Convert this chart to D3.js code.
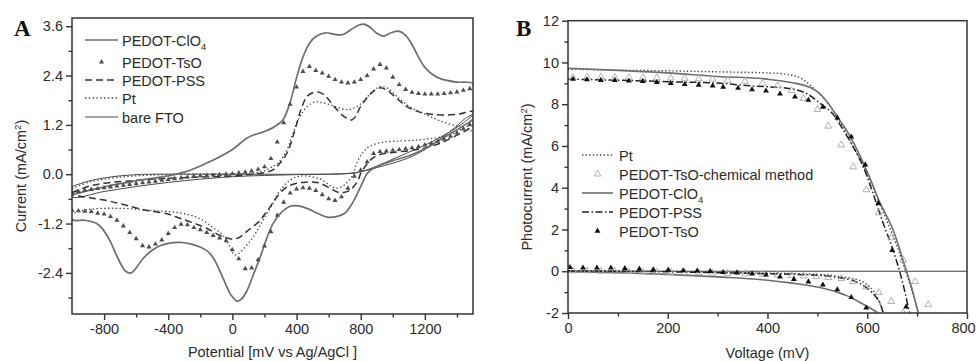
<!DOCTYPE html>
<html>
<head>
<meta charset="utf-8">
<script src="https://cdn.jsdelivr.net/npm/d3@7/dist/d3.min.js"></script>
<style>
  body { margin: 0; background: #fff; }
  svg { display: block; font-family: "Liberation Sans", Arial, sans-serif; }
</style>
</head>
<body>
<svg id="chart" width="978" height="361"></svg>
<script>
// ---------- panel A : cyclic voltammograms [potential mV, current mA/cm2] ----------
const cvClO4 = [
  [-1000,-0.5],[-900,-0.4],[-800,-0.31],[-700,-0.23],[-600,-0.16],[-500,-0.1],[-400,-0.04],[-300,0.05],
  [-200,0.2],[-100,0.38],[0,0.6],[100,0.9],[200,1.04],[260,1.15],[315,1.32],[360,1.75],[400,2.35],
  [440,2.85],[480,3.18],[520,3.35],[580,3.44],[640,3.4],[690,3.4],[740,3.52],[790,3.63],[820,3.65],
  [860,3.57],[900,3.43],[940,3.36],[990,3.44],[1035,3.48],[1080,3.38],[1120,3.15],[1160,2.85],
  [1200,2.6],[1250,2.42],[1300,2.32],[1400,2.24],[1500,2.2],
  [1500,1.35],[1450,1.2],[1400,1.08],[1300,0.85],[1200,0.62],[1100,0.45],[1000,0.33],[920,0.22],
  [870,0.12],[840,0.02],[800,-0.3],[760,-0.62],[733,-0.8],[700,-0.95],[660,-1.02],[600,-1.05],
  [530,-0.95],[465,-0.83],[410,-0.77],[360,-0.78],[300,-0.95],[253,-1.2],[210,-1.6],[172,-2.03],
  [130,-2.45],[90,-2.84],[55,-3.04],[28,-3.09],[5,-3.0],[-15,-2.9],[-59,-2.52],[-120,-2.03],
  [-160,-1.86],[-202,-1.77],[-270,-1.69],[-327,-1.66],[-400,-1.68],[-451,-1.74],[-500,-1.85],
  [-557,-2.05],[-600,-2.28],[-630,-2.4],[-665,-2.36],[-713,-2.05],[-763,-1.62],[-810,-1.33],
  [-846,-1.2],[-920,-1.12],[-1000,-1.1],[-1000,-0.5]
];

const cvPSS = [
  [-1000,-0.45],[-900,-0.3],[-800,-0.22],[-600,-0.15],[-400,-0.1],[-200,-0.07],[0,-0.04],[100,-0.01],
  [200,0.04],[250,0.1],[285,0.22],[340,0.51],[390,1.08],[430,1.6],[465,1.89],[500,1.98],[533,2.0],
  [565,1.95],[590,1.86],[640,1.62],[690,1.42],[720,1.35],[745,1.32],[770,1.42],[800,1.65],[846,1.89],
  [880,2.02],[920,2.1],[960,2.05],[1000,1.93],[1050,1.76],[1090,1.64],[1140,1.55],[1190,1.49],
  [1260,1.45],[1340,1.44],[1420,1.47],[1500,1.52],
  [1500,1.2],[1450,1.05],[1400,0.95],[1300,0.76],[1200,0.64],[1100,0.57],[1000,0.53],[920,0.48],
  [870,0.38],[830,0.2],[800,0.02],[783,-0.15],[760,-0.28],[733,-0.39],[700,-0.44],[658,-0.44],
  [608,-0.34],[560,-0.24],[527,-0.2],[480,-0.19],[440,-0.2],[400,-0.22],[359,-0.27],[330,-0.34],
  [297,-0.46],[265,-0.62],[234,-0.8],[200,-0.98],[172,-1.13],[140,-1.24],[110,-1.33],[80,-1.42],
  [47,-1.53],[20,-1.57],[-15,-1.57],[-50,-1.53],[-77,-1.49],[-120,-1.4],[-158,-1.32],[-220,-1.22],
  [-283,-1.13],[-350,-1.04],[-408,-0.96],[-470,-0.92],[-532,-0.88],[-600,-0.82],[-657,-0.76],
  [-720,-0.7],[-782,-0.64],[-850,-0.6],[-907,-0.56],[-960,-0.53],[-1000,-0.5],[-1000,-0.45]
];

const cvPt = [
  [-1000,-0.35],[-900,-0.2],[-800,-0.12],[-700,-0.07],[-600,-0.04],[-500,-0.02],[-300,0.0],[-100,0.0],
  [100,0.02],[200,0.08],[234,0.15],[284,0.27],[340,0.59],[378,1.0],[421,1.4],[465,1.64],[515,1.76],
  [560,1.74],[608,1.69],[658,1.62],[714,1.57],[764,1.62],[814,1.76],[870,2.0],[920,2.13],[964,2.1],
  [1026,1.89],[1107,1.64],[1213,1.44],[1313,1.27],[1419,1.15],[1500,1.06],
  [1500,1.28],[1481,1.2],[1419,1.08],[1350,0.95],[1294,0.9],[1220,0.86],[1150,0.83],[1050,0.81],
  [940,0.78],[880,0.72],[840,0.64],[810,0.5],[795,0.42],[770,0.22],[752,0.0],[733,-0.12],
  [710,-0.22],[689,-0.29],[652,-0.34],[620,-0.3],[590,-0.22],[550,-0.12],[503,-0.07],[460,-0.04],
  [421,-0.05],[390,-0.08],[359,-0.15],[330,-0.24],[309,-0.34],[280,-0.5],[253,-0.71],[220,-0.92],
  [190,-1.13],[160,-1.33],[128,-1.54],[95,-1.7],[66,-1.83],[40,-1.93],[16,-1.96],[3,-1.92],
  [-15,-1.78],[-34,-1.62],[-70,-1.44],[-120,-1.3],[-170,-1.16],[-220,-1.05],[-280,-0.98],
  [-346,-0.93],[-430,-0.9],[-514,-0.88],[-600,-0.85],[-700,-0.83],[-807,-0.83],[-880,-0.85],
  [-932,-0.88],[-1000,-0.93],[-1000,-0.35]
];

const cvFTO = [
  [-1000,-0.3],[-900,-0.17],[-800,-0.09],[-700,-0.04],[-600,-0.01],[-500,0],[0,0],[500,0],
  [700,0.01],[780,0.04],[850,0.12],[950,0.28],[1050,0.45],[1150,0.62],[1250,0.8],[1350,1.02],
  [1430,1.22],[1500,1.45],
  [1460,1.38],[1400,1.18],[1300,0.87],[1200,0.6],[1100,0.4],[1000,0.27],[900,0.16],[820,0.08],
  [750,0.03],[600,0.0],[400,-0.01],[200,-0.03],[0,-0.06],[-200,-0.12],[-400,-0.2],[-600,-0.3],
  [-800,-0.42],[-1000,-0.55],[-1000,-0.3]
];

// PEDOT-TsO scan points (anodic sweep, then cathodic sweep)
const tsoPotentials = [
  -1000,-960,-920,-880,-840,-800,-760,-720,-680,-640,-600,-560,-520,-480,-440,-400,-360,-320,-280,
  -240,-200,-160,-120,-80,-40,0,40,80,120,160,200,240,280,320,360,400,440,480,520,560,600,640,680,
  720,760,800,840,880,920,960,1000,1040,1080,1120,1160,1200,1240,1280,1320,1360,1400,1440,1480
];
const tsoAnodic = [
  -0.45,-0.42,-0.39,-0.37,-0.35,-0.33,-0.31,-0.29,-0.27,-0.25,-0.23,-0.21,-0.19,-0.17,-0.15,-0.13,
  -0.11,-0.09,-0.07,-0.05,-0.04,-0.03,-0.02,-0.01,0.0,0.01,0.03,0.05,0.08,0.12,0.18,0.38,0.78,1.25,
  1.7,2.12,2.5,2.62,2.52,2.46,2.38,2.3,2.24,2.22,2.24,2.3,2.4,2.56,2.67,2.58,2.36,2.18,2.06,1.99,
  1.96,1.95,1.95,1.95,1.96,1.98,2.0,2.04,2.08
];
// cathodic values listed for the same potentials (low to high)
const tsoCathodic = [
  -0.88,-0.89,-0.9,-0.91,-0.95,-0.97,-1.03,-1.12,-1.26,-1.42,-1.57,-1.74,-1.77,-1.7,-1.6,-1.44,
  -1.3,-1.22,-1.23,-1.3,-1.35,-1.42,-1.49,-1.55,-1.62,-1.84,-2.06,-2.3,-2.28,-2.08,-1.75,-1.4,-1.0,
  -0.68,-0.46,-0.36,-0.33,-0.34,-0.4,-0.5,-0.6,-0.64,-0.55,-0.34,-0.05,0.1,0.3,0.5,0.55,0.56,0.58,
  0.6,0.62,0.64,0.67,0.71,0.75,0.8,0.85,0.92,1.0,1.1,1.2
];

// ---------- panel B : J-V curves [voltage mV, photocurrent mA/cm2] ----------
const jvPtLight = [
  [0,9.68],[100,9.63],[200,9.6],[300,9.55],[400,9.5],[440,9.43],[470,9.2],[492,8.77],[512,8.3],
  [530,7.75],[550,6.95],[570,6.05],[590,5.15],[610,4.1],[630,2.95],[650,1.8],[670,0.5],[685,-0.6],
  [698,-1.6],[703,-2.0]
];
const jvPtDark = [
  [0,0.03],[100,0.02],[200,0.0],[305,-0.05],[400,-0.09],[505,-0.15],[550,-0.27],[586,-0.45],
  [605,-0.75],[620,-1.25],[628,-1.7],[632,-2.0]
];
const jvClO4Light = [
  [0,9.72],[100,9.62],[200,9.5],[300,9.33],[400,9.2],[450,9.03],[480,8.85],[500,8.6],[520,8.1],
  [540,7.4],[566,6.45],[586,5.5],[602,4.65],[626,3.26],[652,1.97],[676,0.2],[692,-1.04],[702,-2.0]
];
const jvClO4Dark = [
  [0,-0.02],[100,-0.07],[200,-0.15],[300,-0.27],[400,-0.43],[450,-0.57],[505,-0.78],[540,-1.0],
  [560,-1.18],[586,-1.5],[605,-1.75],[622,-2.0]
];
const jvPSSLight = [
  [0,9.2],[100,9.15],[200,9.08],[305,9.0],[371,8.87],[439,8.77],[479,8.5],[505,8.05],[532,7.5],
  [552,6.76],[572,5.95],[592,5.0],[612,3.7],[632,2.3],[652,1.0],[666,-0.1],[676,-1.04],[682,-1.7],
  [685,-2.0]
];
const jvPSSDark = [
  [0,0.02],[100,0.0],[200,-0.03],[305,-0.07],[400,-0.12],[505,-0.2],[540,-0.3],[572,-0.45],
  [590,-0.65],[605,-0.92],[618,-1.25],[626,-1.55],[632,-2.0]
];
const jvTsOLight = [
  [10,9.2],[38,9.18],[66,9.15],[94,9.15],[122,9.12],[150,9.1],[178,9.05],[206,9.0],[234,8.95],
  [262,8.92],[290,8.88],[311,8.82],[341,8.77],[369,8.7],[397,8.64],[425,8.5],[455,8.35],[482,8.2],
  [511,7.87],[540,7.35],[568,6.44],[596,5.1],[622,3.26],[650,1.0],[678,-1.7]
];
const jvTsODark = [
  [4,0.19],[30,0.16],[58,0.16],[86,0.16],[114,0.14],[143,0.11],[171,0.08],[201,0.06],[231,0.03],
  [259,0.02],[285,0.0],[311,-0.05],[339,-0.07],[369,-0.12],[397,-0.17],[425,-0.27],[453,-0.38],
  [482,-0.5],[511,-0.65],[540,-0.88],[568,-1.25],[598,-1.75]
];
const jvTsOChemLight = [
  [10,9.28],[38,9.3],[66,9.3],[94,9.28],[122,9.28],[150,9.27],[178,9.26],[206,9.25],[234,9.24],
  [262,9.22],[290,9.2],[320,9.15],[355,9.1],[390,9.0],[420,8.88],[448,8.65],[472,8.28],[500,7.75],
  [522,6.95],[548,6.05],[572,5.0],[598,3.9],[623,2.8],[648,1.6],[672,0.55],[696,-0.5],[722,-1.6]
];
const jvTsOChemDark = [
  [10,0.02],[38,0.02],[66,0.0],[94,0.0],[122,-0.02],[150,-0.03],[178,-0.04],[206,-0.05],[234,-0.06],
  [262,-0.07],[290,-0.09],[320,-0.1],[355,-0.12],[390,-0.14],[420,-0.17],[448,-0.2],[472,-0.23],
  [498,-0.26],[522,-0.3],[548,-0.35],[572,-0.5],[598,-0.75],[623,-1.02],[648,-1.45],[672,-2.0]
];

// ticks
const aXMajor = [-800, -400, 0, 400, 800, 1200];
const aXMinor = [-600, -200, 200, 600, 1000, 1400];
const aYMajor = [-2.4, -1.2, 0.0, 1.2, 2.4, 3.6];
const aYMinor = [-3.0, -1.8, -0.6, 0.6, 1.8, 3.0];
const bXMajor = [0, 200, 400, 600, 800];
const bXMinor = [100, 300, 500, 700];
const bYMajor = [-2, 0, 2, 4, 6, 8, 10, 12];
const bYMinor = [-1, 1, 3, 5, 7, 9, 11];

const svg = d3.select("#chart");
const TEXT = "#2b2b2b";
const FONT = 14.5;

function makePanel(cfg) {
  const x = d3.scaleLinear().domain(cfg.xDomain).range([cfg.left, cfg.right]);
  const y = d3.scaleLinear().domain(cfg.yDomain).range([cfg.bottom, cfg.top]);
  const g = svg.append("g");

  g.append("clipPath").attr("id", cfg.id + "-clip")
    .append("rect")
    .attr("x", cfg.left).attr("y", cfg.top)
    .attr("width", cfg.right - cfg.left).attr("height", cfg.bottom - cfg.top);

  const plot = g.append("g").attr("clip-path", `url(#${cfg.id}-clip)`);

  // axes
  g.append("g").attr("transform", `translate(${cfg.left},0)`)
    .call(d3.axisLeft(y).tickValues(cfg.yMajor).tickSize(6).tickPadding(3).tickFormat(cfg.yFormat));
  g.append("g").attr("transform", `translate(${cfg.left},0)`)
    .call(d3.axisLeft(y).tickValues(cfg.yMinor).tickSize(3.5).tickFormat(""));
  const xAxis = g.append("g").attr("transform", `translate(0,${cfg.bottom})`)
    .call(d3.axisBottom(x).tickValues(cfg.xMajor).tickSize(6).tickPadding(4).tickFormat(d => String(d)));
  g.append("g").attr("transform", `translate(0,${cfg.bottom})`)
    .call(d3.axisBottom(x).tickValues(cfg.xMinor).tickSize(3.5).tickFormat(""));

  // keep the last label of the x axis inside the page
  xAxis.selectAll(".tick text").filter(d => d === cfg.xDomain[1]).attr("dx", cfg.lastTickShift || 0);

  g.selectAll(".domain").remove();
  g.selectAll(".tick line").attr("stroke", "#333").attr("stroke-width", 1.4);
  g.selectAll(".tick text").attr("fill", TEXT).style("font-size", FONT + "px")
    .style("font-family", '"Liberation Sans", Arial, sans-serif');

  // frame
  g.append("rect")
    .attr("x", cfg.left).attr("y", cfg.top)
    .attr("width", cfg.right - cfg.left).attr("height", cfg.bottom - cfg.top)
    .attr("fill", "none").attr("stroke", "#333").attr("stroke-width", 1.5);

  // axis titles
  const yt = g.append("text")
    .attr("transform", `translate(${cfg.yTitleX},${cfg.yTitleY}) rotate(-90)`)
    .attr("text-anchor", "middle").attr("fill", TEXT).style("font-size", FONT + "px");
  yt.append("tspan").text(cfg.yTitle[0]);
  yt.append("tspan").attr("dy", -5).style("font-size", "9.5px").text("2");
  yt.append("tspan").attr("dy", 5).text(")");

  g.append("text")
    .attr("x", (cfg.left + cfg.right) / 2).attr("y", cfg.xTitleY)
    .attr("text-anchor", "middle").attr("fill", TEXT).style("font-size", FONT + "px")
    .text(cfg.xTitle);

  // panel letter
  g.append("text")
    .attr("x", cfg.letterX).attr("y", 36)
    .style("font-family", '"Liberation Serif", "DejaVu Serif", serif')
    .style("font-weight", "bold").style("font-size", "23px").attr("fill", "#111")
    .text(cfg.letter);

  return { x, y, g, plot };
}

function drawLine(p, data, style, curve) {
  const line = d3.line()
    .x(d => p.x(d[0])).y(d => p.y(d[1]))
    .curve(curve || d3.curveCatmullRom.alpha(0.5));
  p.plot.append("path").datum(data)
    .attr("d", line)
    .attr("fill", "none")
    .attr("stroke", style.color)
    .attr("stroke-width", style.width)
    .attr("stroke-dasharray", style.dash || null)
    .attr("stroke-linejoin", "round");
}

function drawTriangles(p, data, style) {
  const sym = d3.symbol().type(d3.symbolTriangle).size(style.size);
  p.plot.append("g").selectAll("path").data(data).join("path")
    .attr("transform", d => `translate(${p.x(d[0])},${p.y(d[1])})`)
    .attr("d", sym)
    .attr("fill", style.fill)
    .attr("stroke", style.stroke || "none")
    .attr("stroke-width", style.strokeWidth || 0);
}

function legend(p, items, x0, x1, tx) {
  items.forEach(it => {
    if (it.marker) {
      const sym = d3.symbol().type(d3.symbolTriangle).size(it.style.size);
      p.g.append("path")
        .attr("transform", `translate(${(x0 + x1) / 2},${it.y})`)
        .attr("d", sym)
        .attr("fill", it.style.fill)
        .attr("stroke", it.style.stroke || "none")
        .attr("stroke-width", it.style.strokeWidth || 0);
    } else {
      p.g.append("line")
        .attr("x1", x0).attr("x2", x1).attr("y1", it.y).attr("y2", it.y)
        .attr("stroke", it.style.color).attr("stroke-width", it.style.width)
        .attr("stroke-dasharray", it.style.dash || null);
    }
    const t = p.g.append("text").attr("x", tx).attr("y", it.y + 5.5)
      .attr("fill", TEXT).style("font-size", FONT + "px");
    t.append("tspan").text(it.label);
    if (it.sub) {
      t.append("tspan").attr("dy", 4).style("font-size", "9.5px").text(it.sub);
    }
  });
}

// ---------- panel A ----------
const pA = makePanel({
  id: "a", left: 72, right: 473, top: 18, bottom: 314,
  xDomain: [-1000, 1500], yDomain: [-3.4, 3.8],
  xMajor: aXMajor, xMinor: aXMinor, yMajor: aYMajor, yMinor: aYMinor,
  yFormat: d => d.toFixed(1),
  yTitle: ["Current (mA/cm"], yTitleX: 26, yTitleY: 176,
  xTitle: "Potential [mV vs Ag/AgCl ]", xTitleY: 357,
  letter: "A", letterX: 14
});

const stClO4 = { color: "#6e6e6e", width: 1.7 };
const stFTO = { color: "#4a4a4a", width: 1.0 };
const stPSS = { color: "#333", width: 1.5, dash: "7,4" };
const stPt = { color: "#444", width: 1.3, dash: "1.4,2.4" };
const stTsOA = { fill: "#4d4d4d", size: 11 };

drawLine(pA, cvFTO, stFTO);
drawLine(pA, cvPt, stPt);
drawLine(pA, cvPSS, stPSS);
drawLine(pA, cvClO4, stClO4);
const tsoPoints = tsoPotentials.map((v, i) => [v, tsoAnodic[i]])
  .concat(tsoPotentials.map((v, i) => [v, tsoCathodic[i]]));
drawTriangles(pA, tsoPoints, stTsOA);

legend(pA, [
  { y: 40, label: "PEDOT-ClO", sub: "4", style: stClO4 },
  { y: 62, label: "PEDOT-TsO", marker: true, style: stTsOA },
  { y: 80, label: "PEDOT-PSS", style: stPSS },
  { y: 98, label: "Pt", style: stPt },
  { y: 117, label: "bare FTO", style: stFTO }
], 85, 118, 122);

// ---------- panel B ----------
const pB = makePanel({
  id: "b", left: 568, right: 967, top: 20.7, bottom: 313,
  xDomain: [0, 800], yDomain: [-2, 12],
  xMajor: bXMajor, xMinor: bXMinor, yMajor: bYMajor, yMinor: bYMinor,
  yFormat: d => String(d),
  yTitle: ["Photocurrent (mA/cm"], yTitleX: 532, yTitleY: 177,
  xTitle: "Voltage (mV)", xTitleY: 358,
  letter: "B", letterX: 516, lastTickShift: -4
});

pB.plot.append("line")
  .attr("x1", pB.x(0)).attr("x2", pB.x(800))
  .attr("y1", pB.y(0)).attr("y2", pB.y(0))
  .attr("stroke", "#444").attr("stroke-width", 1);

const stPtB = { color: "#444", width: 1.4, dash: "1.4,2.2" };
const stClO4B = { color: "#6e6e6e", width: 1.6 };
const stPSSB = { color: "#222", width: 1.5, dash: "7,2.5,1.5,2.5" };
const stTsOB = { fill: "#111", size: 15 };
const stChemB = { fill: "none", stroke: "#a8a8a8", strokeWidth: 0.9, size: 20 };
const mono = d3.curveMonotoneX;

drawLine(pB, jvPtLight, stPtB, mono);
drawLine(pB, jvPtDark, stPtB, mono);
drawLine(pB, jvClO4Light, stClO4B, mono);
drawLine(pB, jvClO4Dark, stClO4B, mono);
drawLine(pB, jvPSSLight, stPSSB, mono);
drawLine(pB, jvPSSDark, stPSSB, mono);
drawTriangles(pB, jvTsOChemLight, stChemB);
drawTriangles(pB, jvTsOChemDark, stChemB);
drawTriangles(pB, jvTsOLight, stTsOB);
drawTriangles(pB, jvTsODark, stTsOB);

legend(pB, [
  { y: 155, label: "Pt", style: stPtB },
  { y: 174, label: "PEDOT-TsO-chemical method", marker: true, style: stChemB },
  { y: 193, label: "PEDOT-ClO", sub: "4", style: stClO4B },
  { y: 212, label: "PEDOT-PSS", style: stPSSB },
  { y: 231, label: "PEDOT-TsO", marker: true, style: stTsOB }
], 582, 613, 619);
</script>
</body>
</html>
